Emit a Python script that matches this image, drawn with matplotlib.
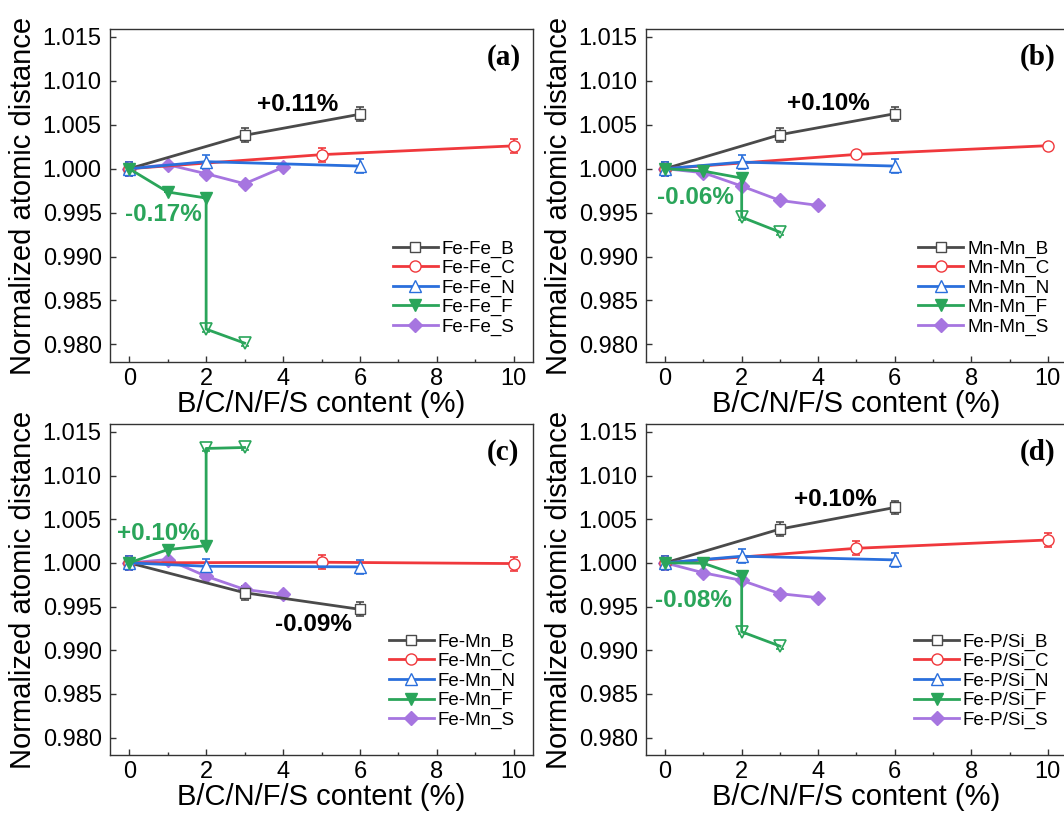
import matplotlib
matplotlib.use("Agg")
import matplotlib.pyplot as plt
from matplotlib.lines import Line2D
from matplotlib.ticker import MultipleLocator, FormatStrFormatter

plt.rcParams['font.family'] = ['Liberation Sans', 'DejaVu Sans']

# ---------------- data ----------------
x_B = [0, 3, 6]
x_C = [0, 5, 10]
x_N = [0, 2, 6]
x_F = [0, 1, 2, 2, 3]
x_S = [0, 1, 2, 3, 4]

a_B = [1.0, 1.0038, 1.0062]
a_C = [1.0, 1.0016, 1.0026]
a_N = [1.0, 1.0008, 1.0003]
a_F = [1.0, 0.99735, 0.99666, 0.98174, 0.98015]
a_S = [1.0, 1.00046, 0.99943, 0.99829, 1.00015]

b_B = [1.0, 1.00387, 1.00626]
b_C = [1.0, 1.00163, 1.00262]
b_N = [1.0, 1.00075, 1.0003]
b_F = [1.0, 0.99973, 0.99893, 0.99449, 0.99278]
b_S = [1.0, 0.99954, 0.99802, 0.99639, 0.99582]

c_B = [1.0, 0.99658, 0.99468]
c_C = [1.0, 1.00007, 0.99992]
c_N = [1.0, 0.99961, 0.99954]
c_F = [1.0, 1.00152, 1.00197, 1.0131, 1.01321]
c_S = [1.0, 1.00038, 0.99847, 0.99696, 0.99639]

d_B = [1.0, 1.00387, 1.00634]
d_C = [1.0, 1.00167, 1.00262]
d_N = [1.0, 1.00076, 1.00034]
d_F = [1.0, 0.99996, 0.99844, 0.99211, 0.99047]
d_S = [1.0, 0.99886, 0.99799, 0.99647, 0.99601]

err_B = [0.0008, 0.0008, 0.0008]
err_C = [0.0008, 0.0008, 0.0008]
err_C_b = [0.0, 0.0, 0.0]
err_N = [0.0008, 0.0008, 0.0008]
err_F = [0.0, 0.0, 0.0, 0.0003, 0.0003]

prefixes = ["Fe-Fe_", "Mn-Mn_", "Fe-Mn_", "Fe-P/Si_"]
panel_tags = ["(a)", "(b)", "(c)", "(d)"]
note_B = ["+0.11%", "+0.10%", "-0.09%", "+0.10%"]
note_F = ["-0.17%", "-0.06%", "+0.10%", "-0.08%"]
x_ticks = [0, 2, 4, 6, 8, 10]
y_ticks = [0.980, 0.985, 0.990, 0.995, 1.000, 1.005, 1.010, 1.015]

panels = [
    (a_B, a_C, a_N, a_F, a_S, err_C),
    (b_B, b_C, b_N, b_F, b_S, err_C_b),
    (c_B, c_C, c_N, c_F, c_S, err_C),
    (d_B, d_C, d_N, d_F, d_S, err_C),
]

# annotation placements (layout)
pos_B = [(4.38, 1.0073), (4.27, 1.0074), (4.80, 0.99297), (4.45, 1.0073)]
pos_F = [(0.90, 0.99476), (0.78, 0.99677), (0.76, 1.0034), (0.75, 0.99571)]

col_B = '#4a4a4a'
col_C = '#f0383c'
col_N = '#2a6fdc'
col_F = '#2aa55a'
col_S = '#a675e0'

fig = plt.figure(figsize=(10.64, 8.18), dpi=100)
W, H = 1064, 818
rects = [
    (110 / W, 1 - 362 / H, 423 / W, 333 / H),
    (646 / W, 1 - 362 / H, 421 / W, 333 / H),
    (110 / W, 1 - 755 / H, 423 / W, 331 / H),
    (646 / W, 1 - 755 / H, 421 / W, 331 / H),
]

lw = 2.0
ms = 7.5
for i, (vB, vC, vN, vF, vS, eC) in enumerate(panels):
    ax = fig.add_axes(rects[i])
    pre = prefixes[i]
    ekw = dict(capsize=3, elinewidth=1.2, capthick=1.2)
    ax.errorbar(x_B, vB, yerr=err_B, color=col_B, lw=lw, marker='s', ms=ms,
                mfc='white', mec=col_B, **ekw)
    ax.errorbar(x_C, vC, yerr=eC, color=col_C, lw=lw, marker='o', ms=ms + 0.5,
                mfc='white', mec=col_C, **ekw)
    ax.errorbar(x_N, vN, yerr=err_N, color=col_N, lw=lw, marker='^', ms=ms + 0.5,
                mfc='white', mec=col_N, **ekw)
    ax.errorbar(x_F, vF, yerr=err_F, color=col_F, lw=lw, marker='v', ms=ms + 0.5,
                mfc=col_F, mec=col_F, markevery=[0, 1, 2], **ekw)
    ax.plot(x_F[3:], vF[3:], linestyle='none', marker='v', ms=ms + 0.5,
            mfc='white', mec=col_F, mew=1.2)
    ax.plot(x_S, vS, color=col_S, lw=lw, marker='D', ms=ms - 0.5,
            mfc=col_S, mec=col_S)

    handles = [
        Line2D([], [], color=col_B, lw=lw, marker='s', ms=ms, mfc='white', mec=col_B),
        Line2D([], [], color=col_C, lw=lw, marker='o', ms=ms + 0.5, mfc='white', mec=col_C),
        Line2D([], [], color=col_N, lw=lw, marker='^', ms=ms + 0.5, mfc='white', mec=col_N),
        Line2D([], [], color=col_F, lw=lw, marker='v', ms=ms + 0.5, mfc=col_F, mec=col_F),
        Line2D([], [], color=col_S, lw=lw, marker='D', ms=ms - 0.5, mfc=col_S, mec=col_S),
    ]
    labels = [pre + s for s in ['B', 'C', 'N', 'F', 'S']]

    ax.set_xlim(-0.5, 10.5)
    ax.set_ylim(0.978, 1.0159)
    ax.set_xticks(x_ticks)
    ax.xaxis.set_minor_locator(MultipleLocator(1))
    ax.set_yticks(y_ticks)
    ax.yaxis.set_major_formatter(FormatStrFormatter('%.3f'))
    ax.tick_params(axis='both', which='major', direction='in', length=4,
                   width=1, labelsize=17, colors='#333333', labelcolor='black')
    ax.tick_params(axis='x', which='minor', direction='in', length=2.5, width=1,
                   colors='#333333')
    ax.tick_params(axis='y', which='major', pad=6)
    ax.tick_params(axis='x', which='major', pad=4)
    for sp in ax.spines.values():
        sp.set_color('#333333')
        sp.set_linewidth(1.0)

    ax.set_xlabel('B/C/N/F/S content (%)', fontsize=21, labelpad=0)
    ax.set_ylabel('Normalized atomic distance', fontsize=21, labelpad=4)

    ax.text(0.93, 0.915, panel_tags[i], transform=ax.transAxes, ha='center',
            va='center', fontsize=21, fontweight='bold',
            family=['Liberation Serif', 'DejaVu Serif'])
    ax.text(pos_B[i][0], pos_B[i][1], note_B[i], ha='center', va='center',
            fontsize=17.5, fontweight='bold', color='black')
    ax.text(pos_F[i][0], pos_F[i][1], note_F[i], ha='center', va='center',
            fontsize=17.5, fontweight='bold', color=col_F)

    ax.legend(handles, labels, loc='lower right', bbox_to_anchor=(0.985, 0.045),
              frameon=False, fontsize=13.5, handlelength=2.4,
              handletextpad=0.2, labelspacing=0.12, borderaxespad=0.2)

fig.savefig('out.png', dpi=100)
